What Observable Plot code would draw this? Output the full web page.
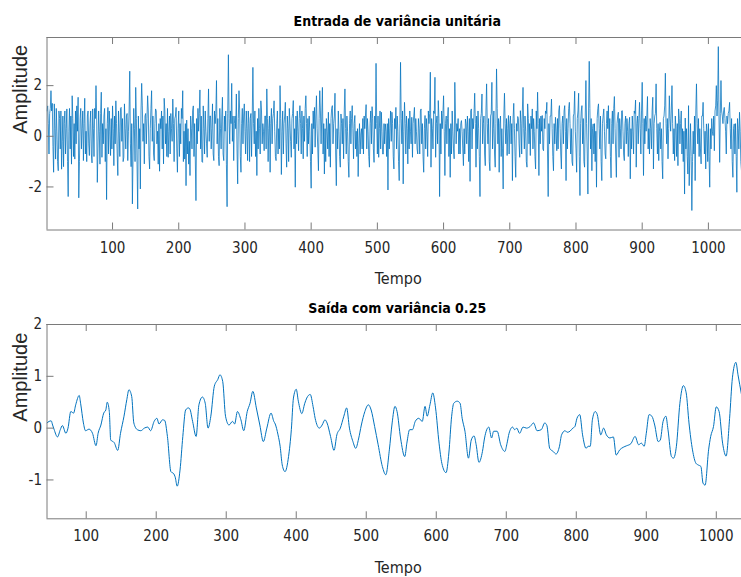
<!DOCTYPE html>
<html><head><meta charset="utf-8">
<script src="https://cdn.jsdelivr.net/npm/d3@7"></script>
<script src="https://cdn.jsdelivr.net/npm/@observablehq/plot@0.6"></script>
<style>
body{margin:0;background:#fff;}
#chart{width:741px;height:577px;overflow:hidden;}
#chart svg{display:block;}
</style></head><body><div id="chart"></div>
<script>
const titleTop = "Entrada de variância unitária";
const titleBottom = "Saída com variância 0.25";
const xLabel = "Tempo";
const yLabel = "Amplitude";
const xTicks = [100,200,300,400,500,600,700,800,900,1000];
const yTicksTop = [-2,0,2];
const yTicksBottom = [-1,0,1,2];

// input noise, samples 1..1050
const entrada = [
1.0,1.2,0.5,-0.7,0.9,1.1,1.8,1.0,1.3,-0.4,
-1.42,1.28,0.3,-0.9,1.1,0.2,-1.0,-1.36,1.0,0.7,
-0.5,1.0,-1.3,-0.2,0.8,-1.2,0.5,1.0,-0.7,0.3,
1.08,-1.0,-2.38,0.2,1.1,-0.5,0.8,-1.1,1.6,0.7,
-0.8,0.5,-0.9,1.0,-0.3,1.2,0.2,1.54,-2.43,-1.0,
0.7,1.1,-0.5,0.3,1.0,-0.96,0.5,1.5,-0.7,0.2,
-1.0,0.8,1.0,-0.3,-0.76,0.5,1.0,-0.7,-1.05,1.08,
0.3,-0.8,1.1,0.7,2.0,0.8,-1.82,-0.5,1.0,0.2,
-1.1,0.9,1.74,-0.83,0.5,-0.3,0.8,1.1,-1.0,0.3,
-2.5,0.5,1.14,-0.7,1.0,0.2,-0.76,0.7,-0.5,1.2,
0.3,-1.16,0.8,-0.3,1.4,0.5,-0.7,-1.55,1.0,0.2,
-0.8,1.1,1.14,-0.2,0.7,-1.0,-0.83,1.28,0.3,-0.5,
0.8,0.9,-0.96,0.2,1.0,2.57,-0.3,-1.2,0.5,-2.67,
-0.7,1.1,0.3,-1.0,1.93,0.7,-1.1,-2.87,0.8,-0.5,
0.3,-2.08,1.0,2.09,1.2,-0.2,0.5,-1.09,0.8,0.9,
-0.3,0.7,1.6,1.0,-0.8,-1.29,0.3,1.1,1.8,-0.2,
0.8,-0.7,-0.96,0.5,1.08,1.0,-0.3,0.2,-1.1,0.5,
-1.38,0.7,0.3,1.0,-0.5,0.8,-1.09,1.5,1.0,-0.3,
0.5,-0.8,1.1,-0.83,0.2,0.8,-0.7,0.9,0.3,-0.2,
1.47,0.5,-1.0,0.7,0.8,1.14,-0.5,-1.42,0.3,1.0,
-0.8,0.5,-0.3,1.1,0.7,1.8,-1.0,0.2,-0.9,0.5,
-1.95,0.64,-0.7,0.3,-1.1,-0.2,-1.55,0.8,0.3,-0.5,
1.0,1.2,-0.8,0.5,-0.9,-2.54,0.7,-0.3,1.1,0.2,
0.9,1.83,-0.5,0.8,-1.0,-1.03,1.2,0.3,-0.7,1.0,
0.2,-0.3,-0.83,0.7,1.87,-0.2,0.8,0.8,-0.5,0.3,
1.28,-0.7,-0.96,1.0,0.5,0.9,2.2,-0.3,0.7,-0.8,
-1.16,1.1,0.3,-0.5,0.8,1.54,-0.7,-0.96,0.8,0.2,
1.0,-1.1,-2.78,0.9,3.22,0.7,-0.3,1.0,0.5,2.09,
-0.2,0.8,-0.96,0.5,0.8,0.3,1.67,-0.5,-1.88,0.7,
1.8,1.0,-0.8,-1.42,0.5,1.1,-0.3,0.8,1.28,0.2,
-0.7,1.0,0.3,-0.96,1.0,0.5,-1.0,0.7,0.9,-0.8,
0.8,2.72,0.5,-0.3,1.0,-0.8,0.2,-1.55,0.7,-0.5,
1.1,0.3,-0.7,1.4,1.0,-0.3,0.5,0.2,-0.57,0.8,
0.8,-0.5,1.87,0.7,-1.0,0.3,0.8,-1.42,0.5,1.1,
-0.3,0.7,0.9,1.4,0.2,-0.8,-0.96,0.5,1.0,-0.7,
0.3,-0.5,2.0,0.7,-1.51,0.2,1.0,-0.7,0.5,0.8,
1.34,-0.3,-1.22,0.8,0.3,-1.0,1.1,0.5,-0.2,-0.83,
0.7,0.9,1.41,-0.5,0.3,-2.01,0.8,-0.3,1.0,0.2,
-0.57,0.7,1.21,0.5,-0.7,1.0,0.3,-0.89,0.8,-0.2,
1.1,1.6,0.5,-0.8,0.7,-0.3,0.8,0.2,-1.0,-2.05,
0.5,-0.7,1.0,0.3,1.14,-0.43,0.8,1.6,0.3,-0.5,
-1.36,0.7,1.8,1.0,-0.3,0.8,1.93,-0.7,0.5,-1.49,
0.3,-1.0,0.7,0.2,-0.5,0.95,-0.8,0.5,-1.22,0.7,
1.1,1.21,-0.3,0.5,0.8,1.7,-0.7,-1.95,0.3,-0.5,
1.0,0.2,-0.8,-1.22,0.88,0.5,-0.3,0.7,-0.89,1.0,
1.87,0.3,-0.7,0.8,0.2,-1.0,-1.62,0.5,1.0,-0.3,
0.7,1.21,0.3,-0.89,0.5,0.82,-0.5,0.2,-0.8,0.3,
-1.59,-0.3,0.5,-0.7,0.09,0.3,-0.5,0.7,-0.7,0.8,
0.3,0.8,1.25,-0.5,0.7,0.2,-0.8,-1.22,0.5,1.0,
-0.3,1.17,0.7,-0.5,-1.03,0.8,0.3,2.88,0.5,-0.7,
0.8,-0.83,0.3,1.0,-0.5,0.95,0.2,-0.7,-0.7,0.5,
-0.3,0.49,0.2,-0.8,0.5,-2.12,0.7,-0.5,0.3,1.0,
-0.2,0.95,0.5,-0.8,-1.29,0.7,0.3,1.14,-0.5,0.8,
0.2,-1.0,-1.75,0.5,2.92,0.7,-0.3,1.0,-1.88,0.2,
1.34,0.5,-0.7,0.8,0.3,-1.09,0.7,-0.5,1.0,0.2,
-0.3,0.75,-0.83,0.5,0.8,1.14,-0.3,0.7,0.2,-0.5,
-0.7,0.7,0.3,-0.7,1.0,1.08,-0.3,0.5,-0.8,-1.42,
0.3,0.82,-0.5,0.7,0.2,-0.8,1.0,0.5,0.9,2.53,
-1.22,0.7,0.3,-0.5,1.0,0.9,2.33,-0.83,0.5,0.8,
-0.3,1.41,0.7,-2.38,0.5,-0.7,1.0,0.3,0.9,1.6,
0.2,-1.55,0.5,0.8,-0.3,0.7,1.14,-0.8,0.3,-1.62,
0.5,-0.7,1.0,0.2,-0.5,-0.89,2.13,0.8,-0.3,0.5,
0.2,0.7,-0.7,0.3,-0.7,0.5,0.62,0.2,-0.5,-1.16,
0.3,-0.7,0.68,0.5,-0.3,0.8,0.2,-1.0,0.7,-1.78,
1.0,1.08,-0.5,0.7,0.3,0.9,1.7,0.5,-1.22,0.8,
-0.5,1.0,0.3,-0.8,-2.38,0.7,0.9,1.67,-0.3,0.5,
0.8,-0.7,-1.16,1.0,2.07,0.5,-0.3,0.7,-1.0,-1.36,
0.8,0.9,2.13,-0.5,0.3,1.0,-0.7,-1.22,0.5,2.66,
1.1,-0.3,0.7,-1.42,0.5,0.8,-0.8,0.3,-0.5,-2.08,
0.8,1.7,0.5,-0.3,0.7,-0.76,0.3,0.82,-0.7,0.5,
0.8,-0.3,0.5,-1.75,0.7,1.3,0.3,-0.8,-1.62,0.5,
0.2,0.78,0.7,-0.3,-0.83,1.01,0.5,-0.7,1.0,1.93,
0.3,-0.5,0.8,0.2,-1.0,-1.22,1.28,0.7,-0.3,0.5,
-0.76,0.8,0.3,1.08,-0.5,0.7,0.2,-0.8,-1.29,1.0,
0.3,1.74,0.5,-1.55,0.7,-0.3,0.8,0.2,0.82,-0.5,
-0.57,0.7,0.3,1.0,0.9,1.34,-0.7,-2.38,0.5,-0.3,
0.8,0.8,1.47,0.3,-0.8,-1.36,0.5,-0.3,0.75,0.2,
-0.57,0.7,-0.5,1.0,1.21,0.3,-0.7,-1.29,0.5,0.8,
-0.3,1.0,1.21,0.2,-1.75,0.7,-0.5,0.3,1.1,1.34,
0.5,-0.7,0.3,-1.0,-1.16,0.8,0.9,1.78,0.2,-0.5,
-1.42,0.7,1.0,1.7,-0.8,-2.34,0.5,1.0,1.21,-0.3,
0.7,-1.0,-1.22,0.8,2.2,0.5,-0.7,-2.28,1.0,2.96,
1.1,-0.5,0.7,-1.36,0.3,0.49,-0.7,0.5,-1.0,0.2,
-2.01,0.7,1.1,1.28,0.3,-0.5,0.8,-1.0,-1.75,0.5,
0.8,1.08,0.2,-0.7,-0.89,0.5,1.0,0.3,1.21,-0.3,
0.7,-0.8,-1.64,0.5,1.0,-0.3,1.1,1.57,0.3,-0.7,
-1.62,0.5,0.8,0.95,-0.83,0.7,0.3,-0.5,1.0,1.01,
0.2,-0.7,-0.96,0.5,0.8,-0.3,0.7,0.2,-0.8,0.5,
0.75,-1.68,0.3,-0.5,0.8,0.2,-0.7,1.0,0.9,1.43,
-1.22,0.5,0.8,-0.3,0.7,1.34,0.3,-0.7,1.0,2.13,
0.5,-1.55,0.7,-0.3,0.8,0.2,0.8,1.57,-0.5,0.3,
-0.7,0.7,0.3,-0.5,1.0,1.54,-1.29,0.5,0.8,0.9,
2.07,0.3,-0.7,0.5,-0.96,0.2,0.55,-0.5,0.3,-1.0,
-1.68,0.7,0.8,1.2,2.49,0.5,-0.3,0.7,-0.89,0.3,
1.6,0.7,0.2,1.0,2.0,0.5,-0.7,0.3,-0.96,0.8,
0.3,-0.8,0.5,-1.16,1.08,0.7,-0.3,0.5,1.0,-0.7,
0.3,-1.0,0.2,-2.28,0.72,-0.5,0.3,-0.8,-1.49,1.21,
-1.95,-0.7,0.5,-0.8,-2.93,-1.0,0.2,-0.7,0.8,-1.75,
1.0,2.07,0.5,-0.3,0.7,-0.8,0.3,-0.5,-1.09,0.8,
0.8,1.34,0.3,-0.7,0.2,-1.29,0.49,0.2,-1.0,0.5,
-0.8,-2.01,0.3,-0.5,0.7,0.2,0.03,0.8,-0.57,1.0,
1.2,2.0,0.8,1.4,3.54,0.8,-1.03,0.9,2.2,1.0,
0.8,0.5,1.0,1.14,0.7,0.2,-0.7,0.8,0.5,0.9,
1.0,1.34,0.3,-0.5,0.7,-1.0,-1.62,0.3,0.49,-0.7,
0.5,-0.8,-2.21,0.7,0.3,-0.5,0.95,0.2,-1.0,-1.36
];

// filtered output, read at sampled times
const saidaT = [44,47,50,52,54,59,63,66,71,74,78,82,85,90,92,96,99,104,109,114,117,121,125,128,130,133,135,140,145,149,154,158,161,165,168,173,178,183,188,192,197,201,204,209,212,216,221,225,227,230,234,238,242,246,248,252,257,261,266,270,274,278,283,288,291,295,299,304,309,312,316,321,325,330,334,338,343,348,353,358,364,368,370,374,377,380,384,389,393,396,400,403,408,412,415,420,424,427,433,437,441,444,449,454,458,463,468,472,476,481,485,489,493,498,503,507,512,517,523,528,533,537,541,544,549,555,558,562,566,570,575,580,584,587,591,595,599,604,608,614,618,622,625,630,634,637,641,646,650,654,657,661,666,669,675,679,682,687,692,698,701,704,709,712,715,719,724,729,734,739,744,750,755,758,762,767,771,776,779,784,787,791,795,798,801,805,809,814,817,820,823,827,830,835,839,843,848,853,857,862,867,872,878,884,889,893,897,900,904,908,912,917,920,924,928,931,936,939,943,948,953,957,961,966,971,974,978,981,984,989,992,996,1000,1004,1009,1014,1019,1023,1028,1031,1036];
const saidaV = [0.10,0.13,0.14,0.06,-0.02,-0.17,-0.03,0.05,-0.10,0.0,0.32,0.29,0.45,0.63,0.48,0.10,-0.05,-0.02,-0.10,-0.34,-0.10,0.06,0.29,0.35,0.50,0.32,-0.23,-0.28,-0.43,-0.10,0.23,0.55,0.74,0.61,0.10,-0.03,-0.05,0.0,0.02,-0.05,0.13,0.19,0.08,0.16,0.15,-0.16,-0.84,-0.88,-0.94,-1.12,-0.81,-0.16,0.35,0.39,0.37,0.13,-0.16,0.45,0.60,0.48,0.0,0.23,0.81,0.94,1.03,0.90,0.23,0.06,0.13,0.08,0.32,0.16,-0.05,0.32,0.48,0.71,0.39,0.06,-0.26,0.0,0.29,0.13,0.08,-0.13,-0.35,-0.71,-0.84,-0.55,-0.03,0.58,0.75,0.52,0.28,0.47,0.58,0.65,0.42,0.19,0.0,0.06,0.16,0.10,-0.16,-0.43,-0.13,0.0,0.23,0.39,0.0,-0.26,-0.39,-0.21,0.06,0.32,0.45,0.35,0.03,-0.32,-0.74,-0.90,-0.42,0.10,0.42,0.32,-0.19,-0.55,-0.29,-0.03,-0.03,0.13,0.19,0.13,0.42,0.23,0.45,0.68,0.39,-0.29,-0.68,-0.86,-0.48,0.23,0.48,0.52,0.48,0.19,-0.06,-0.58,-0.23,-0.15,-0.32,-0.66,-0.45,-0.19,0.02,-0.19,-0.06,-0.06,-0.32,-0.45,-0.30,-0.10,0.02,-0.03,0.0,-0.10,0.02,0.0,0.03,0.10,-0.05,-0.03,0.10,0.05,-0.39,-0.45,-0.50,-0.35,-0.13,-0.05,-0.08,-0.06,0.0,0.03,0.19,0.26,-0.13,-0.39,-0.35,-0.35,0.16,0.32,0.26,-0.13,0.0,-0.13,-0.19,-0.17,-0.52,-0.42,-0.37,-0.34,-0.30,-0.16,-0.32,-0.29,-0.35,-0.10,0.26,0.23,0.06,-0.26,-0.23,0.13,0.23,-0.03,-0.55,-0.58,-0.35,0.48,0.82,0.68,0.10,-0.42,-0.68,-0.71,-0.74,-1.06,-1.10,-0.42,-0.16,0.03,0.41,0.32,-0.29,-0.54,0.19,0.97,1.27,1.03,0.65];

const FONT = "'Liberation Sans Narrow','DejaVu Sans Condensed','Arial Narrow',sans-serif";
const AXIS = "#7a7a7a";
const BLUE = "#0072BD";

function panel({rows, xDomain, yDomain, yTicks, height, mt, mb, title, lineWidth, curve}) {
  const W = 741, ml = 46.5, mr = 0;
  const pw = W - ml - mr, ph = height - mt - mb;
  return Plot.plot({
    width: W, height,
    marginLeft: ml, marginRight: mr, marginTop: mt, marginBottom: mb,
    style: {fontFamily: FONT, fontSize: "15px", color: "#262626", background: "#fff", overflow: "visible"},
    x: {domain: xDomain, ticks: xTicks, tickSize: 0, tickPadding: 12, label: null, tickFormat: d => String(d)},
    y: {domain: yDomain, ticks: yTicks, tickSize: 0, tickPadding: 5, label: null, tickFormat: d => String(d)},
    marks: [
      Plot.line(rows, {x: "t", y: "v", stroke: BLUE, strokeWidth: lineWidth, curve, clip: true}),
      Plot.ruleX([xDomain[0]], {stroke: AXIS, strokeWidth: 1}),
      Plot.ruleY([yDomain[0]], {stroke: AXIS, strokeWidth: 1}),
      Plot.ruleY([yDomain[1]], {stroke: AXIS, strokeWidth: 1}),
      Plot.tickX(xTicks, {x: d => d, insetTop: ph - 7, stroke: AXIS}),
      Plot.tickX(xTicks, {x: d => d, insetBottom: ph - 7, stroke: AXIS}),
      Plot.tickY(yTicks, {y: d => d, insetRight: pw - 7, stroke: AXIS}),
      Plot.text([title], {text: d => d, frameAnchor: "top", lineAnchor: "middle", dy: -16, dx: 3, fontWeight: "bold", fontSize: 14, fill: "#000"}),
      Plot.text([xLabel], {text: d => d, frameAnchor: "bottom", lineAnchor: "middle", dy: 49, dx: 4, fontSize: 16, fill: "#262626"}),
      Plot.text([yLabel], {text: d => d, frameAnchor: "left", lineAnchor: "middle", rotate: -90, dx: -26, fontSize: 20, fill: "#262626", fontFamily: "'Liberation Sans',Arial,sans-serif"})
    ]
  });
}

const topRows = entrada.map((v, i) => ({t: i + 1, v}));
const botRows = saidaT.map((t, i) => ({t, v: saidaV[i]}));

const chart = document.getElementById("chart");
chart.append(panel({rows: topRows, xDomain: [1, 1050], yDomain: [-3.7, 3.9], yTicks: yTicksTop, height: 290, mt: 37, mb: 60.5, title: titleTop, lineWidth: 0.75, curve: "linear"}));
chart.append(panel({rows: botRows, xDomain: [44, 1036], yDomain: [-1.75, 2], yTicks: yTicksBottom, height: 287, mt: 34, mb: 58.7, title: titleBottom, lineWidth: 1, curve: "monotone-x"}));
</script>
</body></html>
